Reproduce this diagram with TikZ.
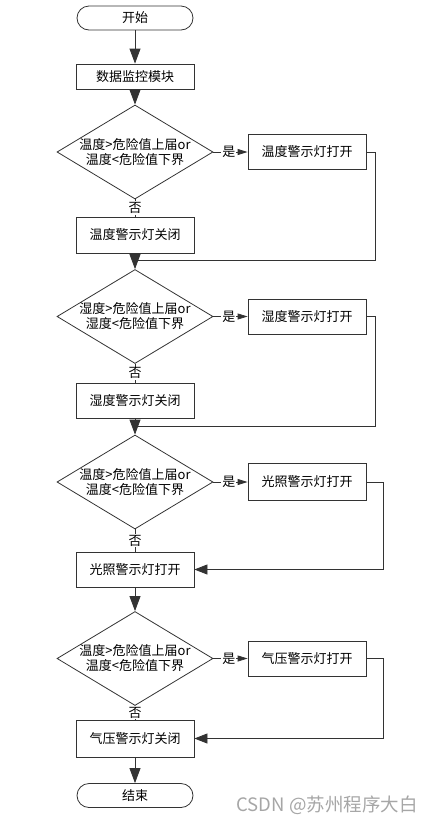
\documentclass[tikz,border=0pt]{standalone}
\usepackage{fontspec}
\usepackage{tikz}
\usetikzlibrary{shapes.geometric,arrows.meta}
\setmainfont{Noto Sans CJK SC}

\begin{document}
\begin{tikzpicture}[x=1pt,y=-1pt,line width=0.8pt,
    every node/.style={font=\fontsize{13}{15}\selectfont},
    terminal/.style={draw=black!80, rectangle, rounded corners=12pt, minimum width=116pt, minimum height=24pt},
    process/.style={draw=black!80, rectangle, minimum width=118pt, minimum height=35pt, inner sep=0pt},
    decision/.style={draw=black!80, diamond, aspect=1.66, minimum width=156pt, minimum height=94pt, inner sep=-3pt, align=center},
    line/.style={draw=black!80},
    flow/.style={line, -{Triangle[width=11pt,length=15pt]}},
    yesflow/.style={line, -{Triangle[width=6pt,length=10pt]}},
    backflow/.style={line, -{Triangle[width=10pt,length=13pt]}},
    tag/.style={fill=white, inner sep=1pt}]
    \useasboundingbox (0,0) rectangle (432,823);

    \node[terminal] (start) at (135,18) {开始};
    \node[process, minimum height=25pt] (monitor) at (135,76.5) {数据监控模块};

    \node[decision] (d1) at (135,152) {温度>危险值上届or\\温度<危险值下界};
    \node[process] (on1) at (307,152) {温度警示灯打开};
    \node[process, minimum height=36pt] (off1) at (135,235) {温度警示灯关闭};

    \node[decision] (d2) at (135,316.5) {湿度>危险值上届or\\湿度<危险值下界};
    \node[process] (on2) at (307,316.5) {湿度警示灯打开};
    \node[process] (off2) at (135,400.5) {湿度警示灯关闭};

    \node[decision] (d3) at (135,482) {温度>危险值上届or\\温度<危险值下界};
    \node[process, minimum height=37pt] (on3) at (307,482) {光照警示灯打开};
    \node[process] (off3) at (135,569.5) {光照警示灯打开};

    \node[decision] (d4) at (135,658.5) {温度>危险值上届or\\温度<危险值下界};
    \node[process] (on4) at (307,658.5) {气压警示灯打开};
    \node[process, minimum height=37pt] (off4) at (135,738.5) {气压警示灯关闭};

    \node[terminal] (stop) at (135,795.5) {结束};

    \coordinate (j1) at (135,260);
    \coordinate (r1) at (375,260);
    \coordinate (j2) at (135,426.5);
    \coordinate (r2) at (375,426.5);
    \coordinate (r3) at (383,569.5);
    \coordinate (r4) at (383,738.5);

    \draw[flow] (start) -- (monitor);
    \draw[flow] (monitor) -- (d1);
    \draw[yesflow] (d1) -- node[tag, pos=0.45] {是} (on1);
    \draw[line] (d1) -- node[tag] {否} (off1);
    \draw[line] (on1.east) -| (r1) -- (j1);
    \draw[flow] (off1) -- (d2);

    \draw[yesflow] (d2) -- node[tag, pos=0.45] {是} (on2);
    \draw[line] (d2) -- node[tag] {否} (off2);
    \draw[line] (on2.east) -| (r2) -- (j2);
    \draw[flow] (off2) -- (d3);

    \draw[yesflow] (d3) -- node[tag, pos=0.45] {是} (on3);
    \draw[line] (d3) -- node[tag] {否} (off3);
    \draw[backflow] (on3.east) -| (r3) -- (off3.east);
    \draw[flow] (off3) -- (d4);

    \draw[yesflow] (d4) -- node[tag, pos=0.45] {是} (on4);
    \draw[line] (d4) -- node[tag] {否} (off4);
    \draw[backflow] (on4.east) -| (r4) -- (off4.east);
    \draw[flow] (off4) -- (stop);

    \node[text=black!35, font=\fontsize{18.5}{20}\selectfont, anchor=east, inner sep=0pt] (mark) at (418,805) {CSDN @苏州程序大白};
\end{tikzpicture}
\end{document}
